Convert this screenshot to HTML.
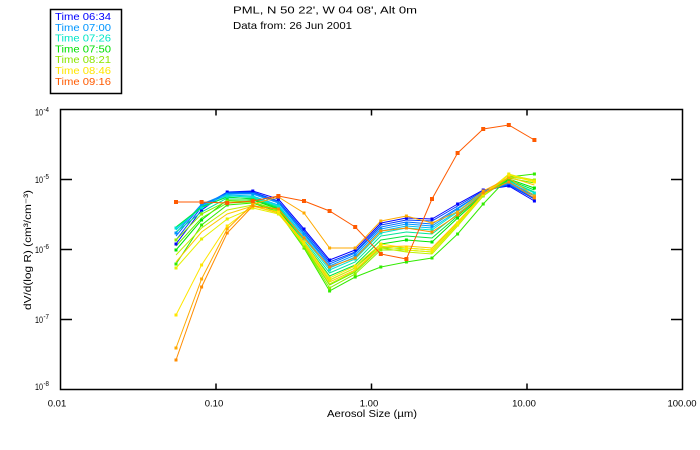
<!DOCTYPE html>
<html><head><meta charset="utf-8"><style>
html,body{margin:0;padding:0;background:#fff;}
svg{display:block;}
text{font-family:"Liberation Sans",sans-serif;}
</style></head><body>
<svg width="700" height="450" viewBox="0 0 700 450" xmlns="http://www.w3.org/2000/svg">
<rect x="0" y="0" width="700" height="450" fill="#fff"/>
<!-- legend -->
<rect x="50.5" y="9.5" width="71" height="84" fill="none" stroke="#000" stroke-width="1.5"/>
<g font-size="10.5">
<text x="55" y="20" fill="#0000ff" textLength="56" lengthAdjust="spacingAndGlyphs">Time 06:34</text>
<text x="55" y="30.8" fill="#0096ff" textLength="56" lengthAdjust="spacingAndGlyphs">Time 07:00</text>
<text x="55" y="41.6" fill="#00e6c8" textLength="56" lengthAdjust="spacingAndGlyphs">Time 07:26</text>
<text x="55" y="52.4" fill="#00e000" textLength="56" lengthAdjust="spacingAndGlyphs">Time 07:50</text>
<text x="55" y="63.2" fill="#8ce600" textLength="56" lengthAdjust="spacingAndGlyphs">Time 08:21</text>
<text x="55" y="74" fill="#ffe600" textLength="56" lengthAdjust="spacingAndGlyphs">Time 08:46</text>
<text x="55" y="84.8" fill="#ff5a00" textLength="56" lengthAdjust="spacingAndGlyphs">Time 09:16</text>
</g>
<!-- title -->
<g font-size="10.5" fill="#000">
<text x="233" y="13.5" textLength="184" lengthAdjust="spacingAndGlyphs">PML, N 50 22', W 04 08', Alt 0m</text>
<text x="233" y="29" textLength="119" lengthAdjust="spacingAndGlyphs">Data from: 26 Jun 2001</text>
</g>
<!-- axes frame -->
<rect x="60.5" y="109.5" width="622" height="280" fill="none" stroke="#000" stroke-width="1.5"/>
<g stroke="#000" stroke-width="1.5">
<line x1="216" y1="389.5" x2="216" y2="383.5"/>
<line x1="371.5" y1="389.5" x2="371.5" y2="383.5"/>
<line x1="527" y1="389.5" x2="527" y2="383.5"/>
<line x1="216" y1="109.5" x2="216" y2="115.5"/>
<line x1="371.5" y1="109.5" x2="371.5" y2="115.5"/>
<line x1="527" y1="109.5" x2="527" y2="115.5"/>
<line x1="60.5" y1="179.5" x2="72" y2="179.5"/>
<line x1="60.5" y1="249.5" x2="72" y2="249.5"/>
<line x1="60.5" y1="319.5" x2="72" y2="319.5"/>
<line x1="682.5" y1="179.5" x2="671" y2="179.5"/>
<line x1="682.5" y1="249.5" x2="671" y2="249.5"/>
<line x1="682.5" y1="319.5" x2="671" y2="319.5"/>
</g>
<!-- x tick labels -->
<g font-size="9.5" fill="#000" text-anchor="middle">
<text x="57" y="406.5">0.01</text>
<text x="214" y="406.5">0.10</text>
<text x="369" y="406.5">1.00</text>
<text x="524" y="406.5">10.00</text>
<text x="682" y="406.5">100.00</text>
</g>
<!-- y tick labels -->
<g fill="#000">
<text x="35" y="115.5" font-size="9.5" textLength="8" lengthAdjust="spacingAndGlyphs">10</text>
<text x="43.5" y="112" font-size="7.5" textLength="5.5" lengthAdjust="spacingAndGlyphs">-4</text>
<text x="35" y="183" font-size="9.5" textLength="8" lengthAdjust="spacingAndGlyphs">10</text>
<text x="43.5" y="179" font-size="7.5" textLength="5.5" lengthAdjust="spacingAndGlyphs">-5</text>
<text x="35" y="253" font-size="9.5" textLength="8" lengthAdjust="spacingAndGlyphs">10</text>
<text x="43.5" y="249" font-size="7.5" textLength="5.5" lengthAdjust="spacingAndGlyphs">-6</text>
<text x="35" y="323" font-size="9.5" textLength="8" lengthAdjust="spacingAndGlyphs">10</text>
<text x="43.5" y="319" font-size="7.5" textLength="5.5" lengthAdjust="spacingAndGlyphs">-7</text>
<text x="35" y="390" font-size="9.5" textLength="8" lengthAdjust="spacingAndGlyphs">10</text>
<text x="43.5" y="386" font-size="7.5" textLength="5.5" lengthAdjust="spacingAndGlyphs">-8</text>
</g>
<!-- axis titles -->
<text x="372" y="417" font-size="10" text-anchor="middle" textLength="90" lengthAdjust="spacingAndGlyphs">Aerosol Size (µm)</text>
<text transform="translate(31,250) rotate(-90)" x="0" y="0" font-size="10" text-anchor="middle" textLength="120" lengthAdjust="spacingAndGlyphs">dV/d(log R) (cm³/cm⁻³)</text>

<!-- series -->
<g fill="none" stroke-width="1">
<polyline stroke="#0000ff" points="176,244 201.6,210 227.2,192 252.8,191 278.4,199 304,229 329.6,260 355.2,250 380.8,223 406.4,218 432,219 457.6,204 483.2,190 508.8,186 534.4,201"/>
<polyline stroke="#003cff" points="176,240 201.6,207 227.2,192 252.8,192 278.4,201 304,231 329.6,262 355.2,252 380.8,225 406.4,220 432,221 457.6,206 483.2,191 508.8,185 534.4,199"/>
<polyline stroke="#006eff" points="176,236 201.6,205 227.2,193 252.8,193 278.4,202 304,233 329.6,264 355.2,253 380.8,227 406.4,222 432,224 457.6,208 483.2,192 508.8,184 534.4,198"/>
<polyline stroke="#0096ff" points="176,233 201.6,204 227.2,194 252.8,194 278.4,203 304,234 329.6,266 355.2,255 380.8,229 406.4,224 432,226 457.6,209 483.2,192 508.8,183 534.4,196"/>
<polyline stroke="#00bef0" points="176,230 201.6,206 227.2,195 252.8,196 278.4,205 304,236 329.6,268 355.2,257 380.8,231 406.4,226 432,228 457.6,211 483.2,193 508.8,182 534.4,195"/>
<polyline stroke="#00e6d2" points="176,228 201.6,208 227.2,196 252.8,197 278.4,206 304,238 329.6,270 355.2,259 380.8,233 406.4,228 432,230 457.6,212 483.2,193 508.8,181 534.4,193"/>
<polyline stroke="#00e696" points="176,232 201.6,212 227.2,198 252.8,198 278.4,207 304,240 329.6,273 355.2,262 380.8,236 406.4,232 432,234 457.6,214 483.2,194 508.8,181 534.4,192"/>
<polyline stroke="#00e63c" points="176,227 201.6,207 227.2,197 252.8,199 278.4,208 304,242 329.6,276 355.2,265 380.8,240 406.4,236 432,238 457.6,216 483.2,194 508.8,180 534.4,190"/>
<polyline stroke="#00e600" points="176,250 201.6,220 227.2,200 252.8,200 278.4,209 304,244 329.6,280 355.2,268 380.8,244 406.4,240 432,242 457.6,218 483.2,195 508.8,179 534.4,188"/>
<polyline stroke="#32eb00" points="176,264 201.6,225 227.2,205 252.8,203 278.4,212 304,248 329.6,291 355.2,277 380.8,267 406.4,262 432,258 457.6,234 483.2,204 508.8,177 534.4,174"/>
<polyline stroke="#64f000" points="176,246 201.6,218 227.2,203 252.8,202 278.4,210 304,246 329.6,285 355.2,272 380.8,248 406.4,248 432,250 457.6,222 483.2,196 508.8,178 534.4,183"/>
<polyline stroke="#8cf000" points="176,240 201.6,214 227.2,201 252.8,202 278.4,211 304,247 329.6,288 355.2,274 380.8,250 406.4,250 432,252 457.6,224 483.2,196 508.8,177 534.4,180"/>
<polyline stroke="#bef000" points="176,255 201.6,228 227.2,210 252.8,205 278.4,213 304,245 329.6,284 355.2,271 380.8,248 406.4,252 432,254 457.6,226 483.2,196 508.8,175 534.4,180"/>
<polyline stroke="#e6f000" points="176,268 201.6,239 227.2,219 252.8,208 278.4,214 304,244 329.6,280 355.2,268 380.8,246 406.4,250 432,252 457.6,225 483.2,195 508.8,174 534.4,181"/>
<polyline stroke="#ffe600" points="176,315 201.6,265 227.2,226 252.8,206 278.4,212 304,242 329.6,278 355.2,266 380.8,244 406.4,248 432,250 457.6,223 483.2,194 508.8,175 534.4,182"/>
<polyline stroke="#ffc800" points="176,262 201.6,232 227.2,214 252.8,206 278.4,213 304,243 329.6,282 355.2,270 380.8,247 406.4,246 432,248 457.6,222 483.2,194 508.8,177 534.4,185"/>
<polyline stroke="#ffaa00" points="176,348 201.6,279 227.2,229 252.8,204 278.4,197 304,213 329.6,248 355.2,248 380.8,221 406.4,216 432,223 457.6,212 483.2,191 508.8,178 534.4,196"/>
<polyline stroke="#ff8c00" points="176,360 201.6,287 227.2,233 252.8,206 278.4,209 304,238 329.6,267 355.2,258 380.8,231 406.4,228 432,232 457.6,215 483.2,193 508.8,182 534.4,198"/>
<polyline stroke="#ff5a00" points="176,202 201.6,202 227.2,203 252.8,201 278.4,196 304,201 329.6,211 355.2,227 380.8,254 406.4,259 432,199 457.6,153 483.2,129 508.8,125 534.4,140"/>
</g>
<!-- markers -->
<g>
<g fill="#0000ff"><path d="M174.5 242.5h3v3h-3zM200.1 208.5h3v3h-3zM225.7 190.5h3v3h-3zM251.3 189.5h3v3h-3zM276.9 197.5h3v3h-3zM302.5 227.5h3v3h-3zM328.1 258.5h3v3h-3zM353.7 248.5h3v3h-3zM379.3 221.5h3v3h-3zM404.9 216.5h3v3h-3zM430.5 217.5h3v3h-3zM456.1 202.5h3v3h-3zM481.7 188.5h3v3h-3zM507.3 184.5h3v3h-3zM532.9 199.5h3v3h-3z"/></g>
<g fill="#0096ff"><path d="M174.5 231.5h3v3h-3zM200.1 202.5h3v3h-3zM225.7 192.5h3v3h-3zM251.3 192.5h3v3h-3zM276.9 201.5h3v3h-3zM302.5 232.5h3v3h-3zM328.1 264.5h3v3h-3zM353.7 253.5h3v3h-3zM379.3 227.5h3v3h-3zM404.9 222.5h3v3h-3zM430.5 224.5h3v3h-3zM456.1 207.5h3v3h-3zM481.7 190.5h3v3h-3zM507.3 181.5h3v3h-3zM532.9 194.5h3v3h-3z"/></g>
<g fill="#00e6d2"><path d="M174.5 226.5h3v3h-3zM200.1 206.5h3v3h-3zM225.7 194.5h3v3h-3zM251.3 195.5h3v3h-3zM276.9 204.5h3v3h-3zM302.5 236.5h3v3h-3zM328.1 268.5h3v3h-3zM353.7 257.5h3v3h-3zM379.3 231.5h3v3h-3zM404.9 226.5h3v3h-3zM430.5 228.5h3v3h-3zM456.1 210.5h3v3h-3zM481.7 191.5h3v3h-3zM507.3 179.5h3v3h-3zM532.9 191.5h3v3h-3z"/></g>
<g fill="#00e600"><path d="M174.5 248.5h3v3h-3zM200.1 218.5h3v3h-3zM225.7 198.5h3v3h-3zM251.3 198.5h3v3h-3zM276.9 207.5h3v3h-3zM302.5 242.5h3v3h-3zM328.1 278.5h3v3h-3zM353.7 266.5h3v3h-3zM379.3 242.5h3v3h-3zM404.9 238.5h3v3h-3zM430.5 240.5h3v3h-3zM456.1 216.5h3v3h-3zM481.7 193.5h3v3h-3zM507.3 177.5h3v3h-3zM532.9 186.5h3v3h-3z"/></g>
<g fill="#32eb00"><path d="M174.5 262.5h3v3h-3zM200.1 223.5h3v3h-3zM225.7 203.5h3v3h-3zM251.3 201.5h3v3h-3zM276.9 210.5h3v3h-3zM302.5 246.5h3v3h-3zM328.1 289.5h3v3h-3zM353.7 275.5h3v3h-3zM379.3 265.5h3v3h-3zM404.9 260.5h3v3h-3zM430.5 256.5h3v3h-3zM456.1 232.5h3v3h-3zM481.7 202.5h3v3h-3zM507.3 175.5h3v3h-3zM532.9 172.5h3v3h-3z"/></g>
<g fill="#8cf000"><path d="M174.5 238.5h3v3h-3zM200.1 212.5h3v3h-3zM225.7 199.5h3v3h-3zM251.3 200.5h3v3h-3zM276.9 209.5h3v3h-3zM302.5 245.5h3v3h-3zM328.1 286.5h3v3h-3zM353.7 272.5h3v3h-3zM379.3 248.5h3v3h-3zM404.9 248.5h3v3h-3zM430.5 250.5h3v3h-3zM456.1 222.5h3v3h-3zM481.7 194.5h3v3h-3zM507.3 175.5h3v3h-3zM532.9 178.5h3v3h-3z"/></g>
<g fill="#e6f000"><path d="M174.5 266.5h3v3h-3zM200.1 237.5h3v3h-3zM225.7 217.5h3v3h-3zM251.3 206.5h3v3h-3zM276.9 212.5h3v3h-3zM302.5 242.5h3v3h-3zM328.1 278.5h3v3h-3zM353.7 266.5h3v3h-3zM379.3 244.5h3v3h-3zM404.9 248.5h3v3h-3zM430.5 250.5h3v3h-3zM456.1 223.5h3v3h-3zM481.7 193.5h3v3h-3zM507.3 172.5h3v3h-3zM532.9 179.5h3v3h-3z"/></g>
<g fill="#ffe600"><path d="M174.5 313.5h3v3h-3zM200.1 263.5h3v3h-3zM225.7 224.5h3v3h-3zM251.3 204.5h3v3h-3zM276.9 210.5h3v3h-3zM302.5 240.5h3v3h-3zM328.1 276.5h3v3h-3zM353.7 264.5h3v3h-3zM379.3 242.5h3v3h-3zM404.9 246.5h3v3h-3zM430.5 248.5h3v3h-3zM456.1 221.5h3v3h-3zM481.7 192.5h3v3h-3zM507.3 173.5h3v3h-3zM532.9 180.5h3v3h-3z"/></g>
<g fill="#ffaa00"><path d="M174.5 346.5h3v3h-3zM200.1 277.5h3v3h-3zM225.7 227.5h3v3h-3zM251.3 202.5h3v3h-3zM276.4 194.5h4v4h-4zM302.5 211.5h3v3h-3zM328.1 246.5h3v3h-3zM353.7 246.5h3v3h-3zM379.3 219.5h3v3h-3zM404.9 214.5h3v3h-3zM430.5 221.5h3v3h-3zM456.1 210.5h3v3h-3zM481.7 189.5h3v3h-3zM507.3 176.5h3v3h-3zM532.9 194.5h3v3h-3z"/></g>
<g fill="#ff8c00"><path d="M174.5 358.5h3v3h-3zM200.1 285.5h3v3h-3zM225.7 231.5h3v3h-3zM251.3 204.5h3v3h-3zM276.9 207.5h3v3h-3zM302.5 236.5h3v3h-3zM328.1 265.5h3v3h-3zM353.7 256.5h3v3h-3zM379.3 229.5h3v3h-3zM404.9 226.5h3v3h-3zM430.5 230.5h3v3h-3zM456.1 213.5h3v3h-3zM481.7 191.5h3v3h-3zM507.3 180.5h3v3h-3zM532.9 196.5h3v3h-3z"/></g>
<g fill="#ff5a00"><path d="M174 200h4v4h-4zM199.6 200h4v4h-4zM225.2 201h4v4h-4zM250.8 199h4v4h-4zM276.4 194h4v4h-4zM302 199h4v4h-4zM327.6 209h4v4h-4zM353.2 225h4v4h-4zM378.8 252h4v4h-4zM404.4 257h4v4h-4zM430 197h4v4h-4zM455.6 151h4v4h-4zM481.2 127h4v4h-4zM506.8 123h4v4h-4zM532.4 138h4v4h-4z"/></g>
</g>
</svg>
</body></html>
